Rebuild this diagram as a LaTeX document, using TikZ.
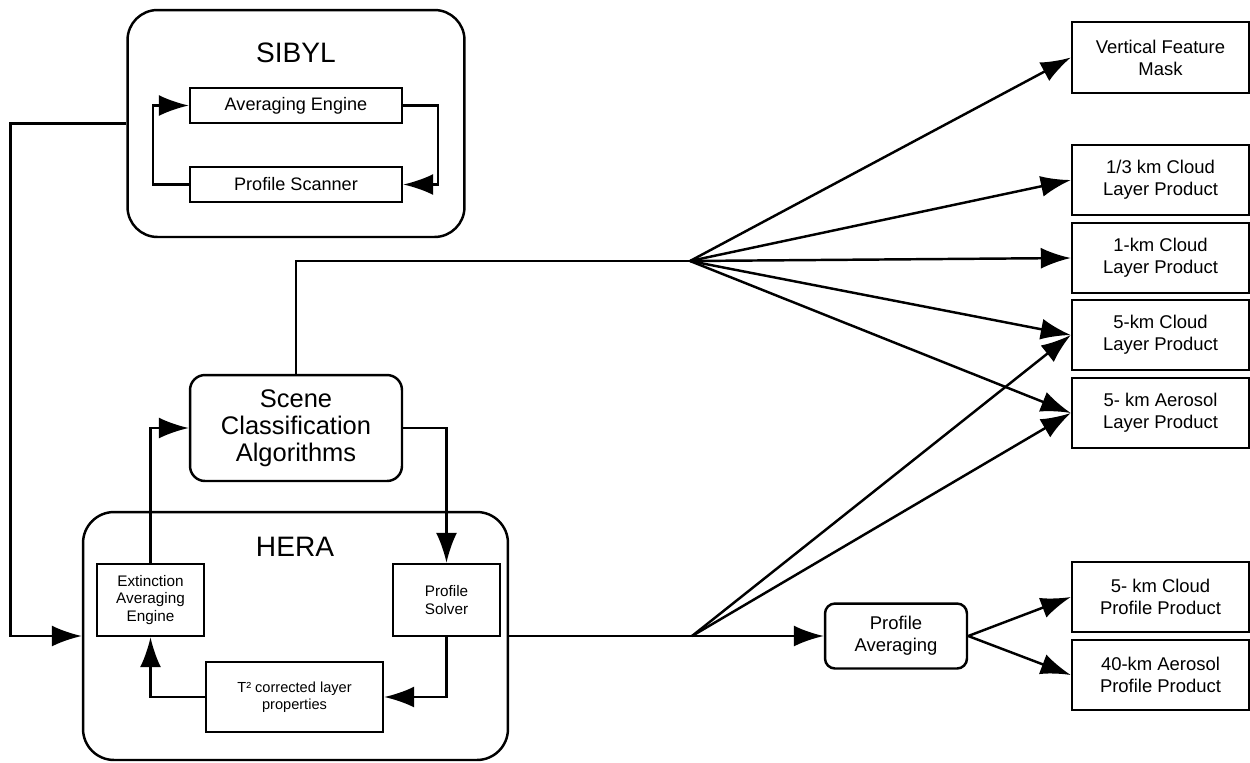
\documentclass[tikz,border=0pt]{standalone}
\usepackage{fontspec}
\setmainfont{Liberation Sans}
\usetikzlibrary{arrows.meta}

\begin{document}
\begin{tikzpicture}[x=0.02cm, y=-0.02cm, line width=1.4pt,
	box/.style={draw, inner sep=0pt, align=center},
	prodbox/.style={box, minimum width=3.54cm, minimum height=1.4cm, font=\fontsize{10.5}{12.5}\selectfont},
	smallbox/.style={box, font=\fontsize{8.7}{10}\selectfont},
	arr/.style={-{Latex[length=0.6cm,width=0.42cm]}}]
\useasboundingbox (0,0) rectangle (1250,762);

% SIBYL
\path (296,123.5) node[box, rounded corners=0.6cm, minimum width=6.74cm, minimum height=4.54cm] (sibyl) {};
\path (296,53) node (sibylT) {\fontsize{16}{18}\selectfont SIBYL};
\path (296,105.5) node[box, minimum width=4.24cm, minimum height=0.7cm, font=\fontsize{10.3}{12}\selectfont] (avg) {Averaging Engine};
\path (296,184.5) node[box, minimum width=4.24cm, minimum height=0.7cm, font=\fontsize{10.3}{12}\selectfont] (scan) {Profile Scanner};
\draw [arr] (avg.east) -- ++(35,0) |- (scan.east);
\draw [arr] (scan.west) -- ++(-36,0) |- (avg.west);

% HERA
\path (295.5,636) node[box, rounded corners=0.62cm, minimum width=8.5cm, minimum height=4.96cm] (hera) {};
\path (295,547) node (heraT) {\fontsize{16}{18}\selectfont HERA};
\path (150.5,600) node[smallbox, minimum width=2.14cm, minimum height=1.44cm] (ext) {Extinction\\Averaging\\Engine};
\path (446.5,600) node[smallbox, minimum width=2.14cm, minimum height=1.44cm] (solver) {Profile\\Solver};
\path (294.5,697) node[smallbox, minimum width=3.54cm, minimum height=1.4cm, font=\fontsize{8.3}{10}\selectfont] (t2) {T² corrected layer\\properties};
\draw [arr] (solver.south) |- (t2.east);
\draw [arr] (t2.west) -| (ext.south);

% scene classification
\path (296,428) node[box, rounded corners=0.3cm, minimum width=4.24cm, minimum height=2.12cm, font=\fontsize{14.5}{15.5}\selectfont] (scene) {Scene\\Classification\\Algorithms};
\draw [arr] (ext.north) |- (scene.west);
\draw [arr] (scene.east) -| (solver.north);

% input from SIBYL
\draw [arr] (sibyl.west) -- ++(-116,0) |- (hera.west);

% products
\path (1160.5,57.5) node[prodbox, minimum height=1.42cm] (vfm) {Vertical Feature\\Mask};
\path (1160.5,180) node[prodbox] (c13) {1/3 km Cloud\\Layer Product};
\path (1160.5,258) node[prodbox] (c1) {1-km Cloud\\Layer Product};
\path (1160.5,335) node[prodbox] (c5) {5-km Cloud\\Layer Product};
\path (1160.5,413) node[prodbox] (a5) {5- km Aerosol\\Layer Product};
\path (1160.5,597) node[prodbox] (cp5) {5- km Cloud\\Profile Product};
\path (1160.5,675) node[prodbox] (ap40) {40-km Aerosol\\Profile Product};

\path (896,636) node[box, rounded corners=0.2cm, minimum width=2.84cm, minimum height=1.3cm, font=\fontsize{10.5}{12.5}\selectfont] (pavg) {Profile\\Averaging};

\coordinate (fan1) at (690,261);
\coordinate (fan2) at (692,636);

\draw (scene.north) |- (fan1);
\foreach \n in {vfm, c13, c1, c5, a5}
{
	\draw [arr] (fan1) -- (\n.west);
}

\draw (hera.east) -- (fan2);
\draw [arr] (fan2) -- (pavg.west);
\foreach \n in {c5, a5}
{
	\draw [arr] (fan2) -- (\n.west);
}
\foreach \n in {cp5, ap40}
{
	\draw [arr] (pavg.east) -- (\n.west);
}

\end{tikzpicture}
\end{document}
